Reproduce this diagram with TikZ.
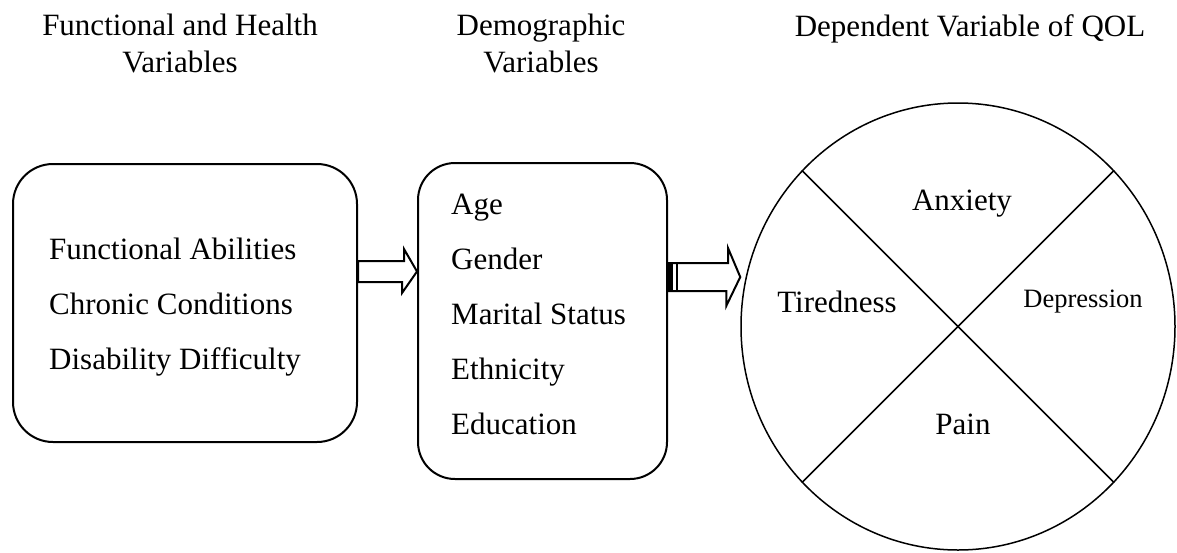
\documentclass[tikz,border=0pt]{standalone}
\usepackage{fontspec}
\setmainfont{Liberation Serif}
\usetikzlibrary{calc,shapes.geometric,positioning}
\tikzset{
	varbox/.style={
		draw, rectangle, line width=2pt,
		rounded corners=40pt, inner sep=0pt
	},
	heading/.style={align=center, inner sep=0pt, anchor=north,
		font=\fontsize{31}{37}\selectfont},
	item/.style={inner sep=0pt, anchor=base west,
		font=\fontsize{31}{37}\selectfont},
	segment/.style={inner sep=0pt, anchor=base,
		font=\fontsize{31}{37}\selectfont},
	fatarrow/.style={draw, line width=2pt, fill=white, line join=miter}
}

\begin{document}
\begin{tikzpicture}[x=1pt, y=-1pt]
	\useasboundingbox (0,0) rectangle (1177,552);
	% headings
	\node[heading] (hhealth) at (180,14) {Functional and Health\\Variables};
	\node[heading] (hdemo) at (541,14) {Demographic\\Variables};
	\node[heading] (hqol) at (970,14) {Dependent Variable of QOL};
	% boxes and circle
	\node[varbox, minimum width=344pt, minimum height=278pt] (health) at (185,303) {};
	\node[varbox, rounded corners=37pt, minimum width=249pt, minimum height=316pt] (demo) at (542.5,321) {};
	\node[draw, ellipse, line width=1.5pt, minimum width=434pt, minimum height=447pt, inner sep=0pt] (qol) at (958,326.5) {};
	% box contents
	\foreach \txt [count=\i] in {Functional Abilities, Chronic Conditions, Disability Difficulty}
		\node[item] (health\i) at ($(health.west)+(37,55*\i-99)$) {\txt};
	\foreach \txt [count=\i] in {Age, Gender, Marital Status, Ethnicity, Education}
		\node[item] (demo\i) at ($(demo.west)+(34,55*\i-162)$) {\txt};
	% quarters of the circle
	\draw[line width=1.5pt] (qol.135) -- (qol.-45);
	\draw[line width=1.5pt] (qol.45) -- (qol.-135);
	\node[segment] (anxiety) at ($(qol.center)+(4,-116.5)$) {Anxiety};
	\node[segment] (tired) at ($(qol.center)+(-121,-14.5)$) {Tiredness};
	\node[segment, font=\fontsize{26.5}{32}\selectfont] (depress) at ($(qol.center)+(125,-19.5)$) {Depression};
	\node[segment] (pain) at ($(qol.center)+(5,107.5)$) {Pain};
	% arrows
	\coordinate (arr1) at ($(health.east)+(0,-31.5)$);
	\draw[fatarrow] ($(arr1)+(0,-10.5)$) -- ++(46,0) -- ++(0,-12) -- (demo.west |- arr1)
		-- ++(-15,21.5) -- ++(0,-11) -- ($(arr1)+(0,10.5)$) -- cycle;
	\coordinate (arr2) at ($(demo.east)+(0,-44)$);
	\draw[fatarrow] ($(arr2)+(0,-14)$) -- ++(60,0) -- ++(0,-15) -- (qol.west |- arr2)
		-- ++(-14,29) -- ++(0,-15) -- ($(arr2)+(0,14)$) -- cycle;
	\fill ($(arr2)+(0,-14)$) rectangle ++(5,28);
	\draw[line width=2pt] ($(arr2)+(8.5,-14)$) -- ++(0,28);
\end{tikzpicture}
\end{document}
